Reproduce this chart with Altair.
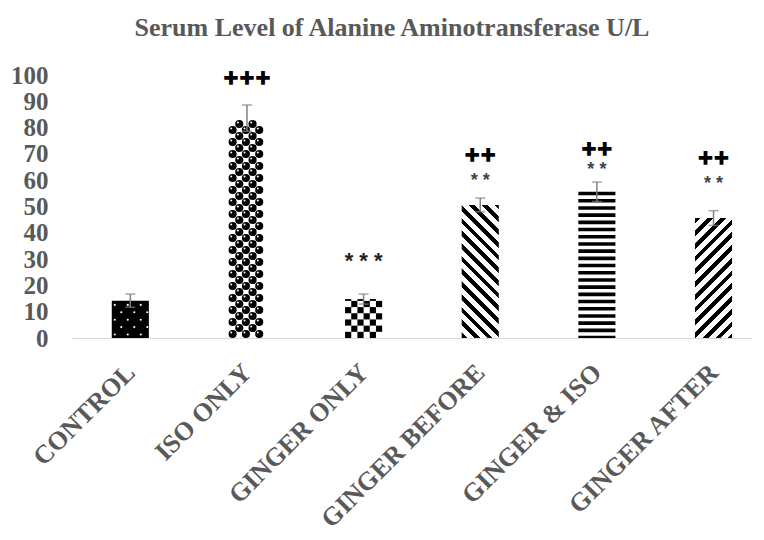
import json
import math
import altair as alt
import pandas as pd

# ---------------- data ----------------
categories = ["CONTROL", "ISO ONLY", "GINGER ONLY", "GINGER BEFORE", "GINGER & ISO", "GINGER AFTER"]
means = [14.2, 83.6, 14.8, 50.6, 55.6, 45.6]
errors = [2.5, 5.0, 1.9, 2.6, 3.7, 2.8]
plus_marks = ["", "+++", "", "++", "++", "++"]
plus_heights = [None, 98.9, None, 69.6, 71.7, 68.3]
star_marks = ["", "", "* * *", "* *", "* *", "* *"]
star_heights = [None, None, 30.7, 62.0, 66.2, 60.7]
y_ticks = list(range(0, 101, 10))
title_text = "Serum Level of Alanine  Aminotransferase U/L"

# ---------------- layout ----------------
W, H = 680, 263
XDOM = [-0.5, 5.33]
PPX = W / (XDOM[1] - XDOM[0])   # pixels per x unit
PPU = H / 100.0                 # pixels per y unit
HALF = 0.159                    # bar half width in x units
BAR_W = 2 * HALF * PPX          # bar width in pixels

GRAY = "#595959"
FONT = "Liberation Serif"

xscale = alt.Scale(domain=XDOM, nice=False, zero=False)
yscale = alt.Scale(domain=[0, 100], nice=False)

label_expr = json.dumps(categories) + "[datum.value]"

x_axis = alt.Axis(values=list(range(len(categories))), labelExpr=label_expr, title=None,
                  labelAngle=-45, labelAlign="right", labelBaseline="middle",
                  labelFont=FONT, labelFontWeight="bold", labelFontSize=26, labelColor=GRAY,
                  labelPadding=30, labelLimit=600, ticks=False, grid=False, domainColor="#d9d9d9",
                  domainWidth=1.2, labelOverlap=False, labelBound=False, labelFlush=False)
y_axis = alt.Axis(values=y_ticks, title=None, labelFont=FONT, labelFontWeight="bold",
                  labelFontSize=25, labelColor=GRAY, labelPadding=24, ticks=False,
                  tickSize=0, domain=False, grid=False, labelOverlap=False)


def X(field):
    return alt.X(field, scale=xscale, axis=x_axis)


def Y(field):
    return alt.Y(field, scale=yscale, axis=y_axis)


# ---------------- pattern geometry (derived from the data) ----------------
rects = []   # solid black rectangles: x0, x1, y0, y1
dots = []    # points: x, y, size, color

for i, (cat, v) in enumerate(zip(categories, means)):
    x0, x1 = i - HALF, i + HALF
    if cat == "CONTROL":
        rects.append(dict(x0=x0, x1=x1, y0=0, y1=v))
        row_p = 7.4 / PPU
        col_p = 13.0 / PPX
        r = 0
        y = 3.5 / PPU
        while y < v - 1.5 / PPU:
            off = 3.0 / PPX + (r % 2) * col_p / 2
            x = x0 + off
            while x < x1 - 1.5 / PPX:
                dots.append(dict(x=x, y=y, size=4.5, color="white"))
                x += col_p
            y += row_p
            r += 1
    elif cat == "ISO ONLY":
        row_p = 6.0 / PPU
        col_p = 13.3 / PPX
        r = 0
        y = 4.0 / PPU
        while y < v - 3.5 / PPU:
            off = 4.2 / PPX + (r % 2) * col_p / 2
            x = x0 + off
            while x <= x1 - 4.0 / PPX:
                dots.append(dict(x=x, y=y, size=66, color="black"))
                dots.append(dict(x=x - 1.4 / PPX, y=y + 1.4 / PPU, size=4, color="white"))
                x += col_p
            y += row_p
            r += 1
    elif cat == "GINGER ONLY":
        ncol = 6
        cw = (x1 - x0) / ncol
        ch = cw * PPX / PPU
        r = 0
        yb = 0.0
        while yb < v:
            yt = min(v, yb + ch)
            for c in range(ncol):
                if (r + c) % 2 == 0:
                    rects.append(dict(x0=x0 + c * cw, x1=x0 + (c + 1) * cw, y0=yb, y1=yt))
            yb += ch
            r += 1
    elif cat == "GINGER & ISO":
        per = 7.2 / PPU
        blk = 3.6 / PPU
        yt = v
        while yt > 0:
            rects.append(dict(x0=x0, x1=x1, y0=max(0.0, yt - blk), y1=yt))
            yt -= per

rect_df = pd.DataFrame(rects)
dot_df = pd.DataFrame(dots)


def stripe_gradient(value, direction, period=9.0, black=0.45):
    w = BAR_W
    h = value * PPU
    k = (w + h) / (w * w + h * h)
    a, b = w * k, h * k
    n = (w + h) / math.sqrt(2) / period
    stops = []
    i = 0
    while i / n < 1:
        s = i / n
        m = min(1.0, (i + black) / n)
        e = min(1.0, (i + 1) / n)
        stops += [dict(offset=s, color="black"), dict(offset=m, color="black"),
                  dict(offset=m, color="white"), dict(offset=e, color="white")]
        i += 1
    if direction == "back":   # "\" stripes
        return dict(gradient="linear", x1=0, y1=1, x2=a, y2=1 - b, stops=stops)
    return dict(gradient="linear", x1=0, y1=0, x2=a, y2=b, stops=stops)  # "/" stripes


bars_df = pd.DataFrame({"cat": categories, "idx": range(len(categories)), "v": means, "e": errors})
bars_df["x0"] = bars_df["idx"] - HALF
bars_df["x1"] = bars_df["idx"] + HALF
bars_df["lo"] = bars_df["v"] - bars_df["e"]
bars_df["hi"] = bars_df["v"] + bars_df["e"]

# ---------------- layers ----------------
axis_layer = alt.Chart(bars_df).mark_point(opacity=0).encode(x=X("idx:Q"), y=Y("v:Q"))

rect_layer = alt.Chart(rect_df).mark_rect(color="black", strokeWidth=0).encode(
    x=X("x0:Q"), x2="x1:Q", y=Y("y0:Q"), y2="y1:Q",
)

dot_layer = alt.Chart(dot_df).mark_point(filled=True, shape="circle", opacity=1, strokeWidth=0).encode(
    x=X("x:Q"), y=Y("y:Q"),
    size=alt.Size("size:Q", scale=None, legend=None),
    color=alt.Color("color:N", scale=None, legend=None),
)

grad_layers = []
for cat, direction in [("GINGER BEFORE", "back"), ("GINGER AFTER", "fwd")]:
    row = bars_df[bars_df["cat"] == cat]
    v = float(row["v"].iloc[0])
    grad_layers.append(
        alt.Chart(row).mark_rect(fill=stripe_gradient(v, direction), strokeWidth=0).encode(
            x=X("x0:Q"), x2="x1:Q", y=Y("v:Q"), y2=alt.datum(0),
        )
    )

err_rule = alt.Chart(bars_df).mark_rule(color="#808080", strokeWidth=1.5).encode(
    x=X("idx:Q"), y=Y("lo:Q"), y2="hi:Q",
)
err_top = alt.Chart(bars_df).mark_tick(color="#808080", orient="horizontal", size=10, thickness=1.5).encode(
    x=X("idx:Q"), y=Y("hi:Q"),
)
err_bot = alt.Chart(bars_df).mark_tick(color="#808080", orient="horizontal", size=10, thickness=1.5).encode(
    x=X("idx:Q"), y=Y("lo:Q"),
)

plus_df = pd.DataFrame({"idx": range(len(categories)), "txt": plus_marks, "h": plus_heights})
plus_df = plus_df[plus_df["txt"] != ""]
star_df = pd.DataFrame({"idx": range(len(categories)), "txt": star_marks, "h": star_heights})
star_df = star_df[star_df["txt"] != ""]

plus_layer = alt.Chart(plus_df).mark_text(font="DejaVu Sans", fontWeight="bold", fontSize=19,
                                          color="black", stroke="black", strokeWidth=1.6,
                                          baseline="alphabetic", dy=6).encode(
    x=X("idx:Q"), y=Y("h:Q"), text="txt:N",
)
star_layer = alt.Chart(star_df).mark_text(font="Liberation Sans", fontWeight="bold",
                                          baseline="alphabetic", dy=11).encode(
    x=X("idx:Q"), y=Y("h:Q"), text="txt:N",
    size=alt.condition("datum.txt == '* * *'", alt.value(22), alt.value(18)),
    color=alt.condition("datum.txt == '* * *'", alt.value("#222222"), alt.value("#444444")),
)

chart = alt.layer(
    axis_layer, rect_layer, *grad_layers, dot_layer, err_rule, err_top, err_bot, plus_layer, star_layer
).properties(
    width=W, height=H,
    padding={"left": 64, "top": 67, "right": 0, "bottom": 189},
    autosize=alt.AutoSizeParams(type="none"),
    title=alt.TitleParams(title_text, font=FONT, fontSize=26, fontWeight="bold", color=GRAY,
                          anchor="middle", dx=-20, offset=1, frame="group", baseline="alphabetic"),
).configure_view(stroke=None)

chart.save("out.html", embed_options={"renderer": "svg", "actions": False})
